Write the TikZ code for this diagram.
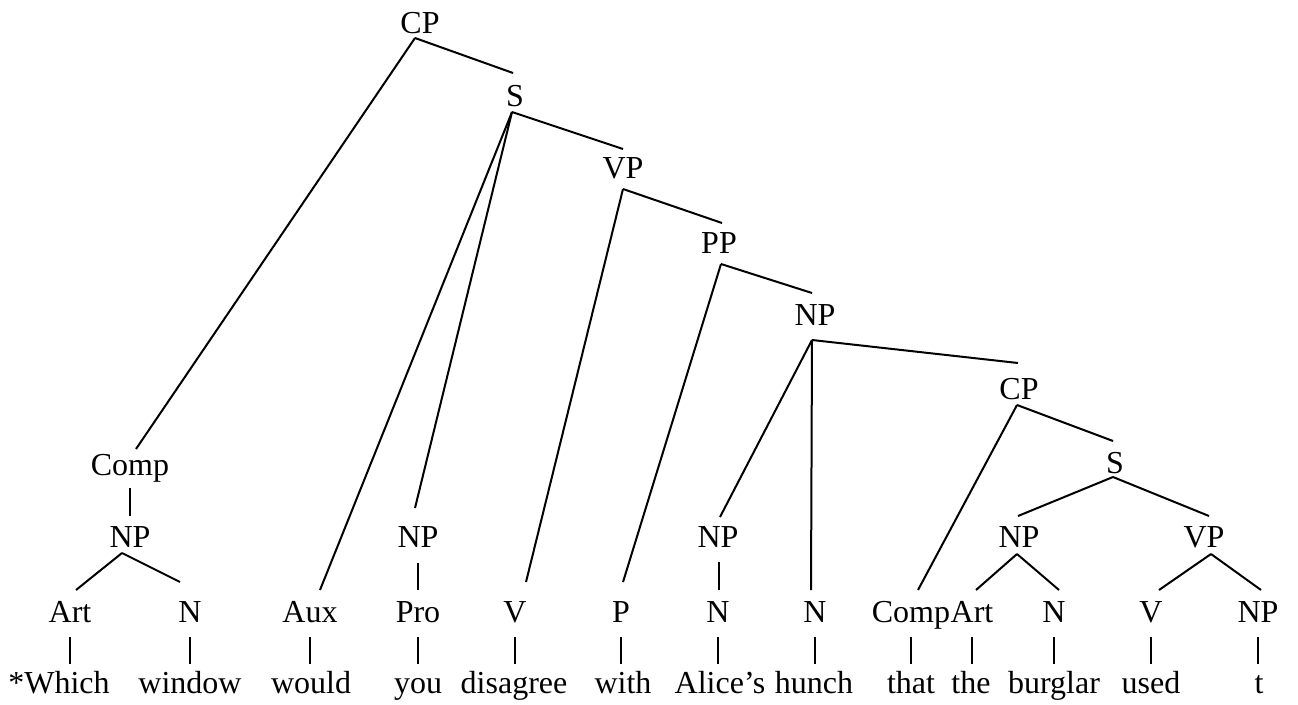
\documentclass[tikz,border=0pt]{standalone}
\usepackage{fontspec}
\setmainfont{Liberation Serif}
\usetikzlibrary{calc}
\begin{document}
\begin{tikzpicture}[x=1pt,y=-1pt,
  lab/.style={anchor=base,inner sep=0pt,font=\fontsize{32}{38}\selectfont},
  branch/.style={line width=2pt},
  ubar/.style={line width=1.2pt}]
\useasboundingbox (0,0) rectangle (1298,704);
% upper spine
\node[lab] (cp1) at (420,33) {CP};
\node[lab] (s1) at (515,106) {S};
\node[lab] (vp1) at (623,178) {VP};
\node[lab] (pp1) at (719,253) {PP};
\node[lab] (np1) at (815,325) {NP};
\node[lab] (cp2) at (1019,399) {CP};
\node[lab] (s2) at (1115,473) {S};
\node[lab] (comp1) at (130,475) {Comp};
% NP row
\node[lab] (npa) at (130,547) {NP};
\node[lab] (npb) at (418,547) {NP};
\node[lab] (npc) at (718,547) {NP};
\node[lab] (npd) at (1019,547) {NP};
\node[lab] (vp2) at (1204,547) {VP};
% category row
\node[lab] (art1) at (70,622) {Art};
\node[lab] (n1) at (190,622) {N};
\node[lab] (aux) at (310,622) {Aux};
\node[lab] (pro) at (418,622) {Pro};
\node[lab] (v1) at (515,622) {V};
\node[lab] (p1) at (621,622) {P};
\node[lab] (n2) at (718,622) {N};
\node[lab] (n3) at (815,622) {N};
\node[lab] (comp2) at (911,622) {Comp};
\node[lab] (art2) at (972,622) {Art};
\node[lab] (n4) at (1054,622) {N};
\node[lab] (v2) at (1151,622) {V};
\node[lab] (np2) at (1258,622) {NP};
% words
\node[lab] (w1) at (59,693) {*Which};
\node[lab] (w2) at (190,693) {window};
\node[lab] (w3) at (311,693) {would};
\node[lab] (w4) at (418,693) {you};
\node[lab] (w5) at (514,693) {disagree};
\node[lab] (w6) at (623,693) {with};
\node[lab] (w7) at (720,693) {Alice’s};
\node[lab] (w8) at (814,693) {hunch};
\node[lab] (w9) at (911,693) {that};
\node[lab] (w10) at (971,693) {the};
\node[lab] (w11) at (1054,693) {burglar};
\node[lab] (w12) at (1151,693) {used};
\node[lab] (w13) at (1259,693) {t};
% branches
\draw[branch] ([shift={(-5,5)}]cp1.base) -- ([shift={(6,-26)}]comp1.base);
\draw[branch] ([shift={(-5,5)}]cp1.base) -- ([shift={(-2,-33)}]s1.base);
\draw[branch] ([shift={(-3,6)}]s1.base) -- ([shift={(10,-32)}]aux.base);
\draw[branch] ([shift={(-3,6)}]s1.base) -- ([shift={(-3,-39)}]npb.base);
\draw[branch] ([shift={(-3,6)}]s1.base) -- ([shift={(0,-29)}]vp1.base);
\draw[branch] ([shift={(0,11)}]vp1.base) -- ([shift={(11,-40)}]v1.base);
\draw[branch] ([shift={(0,11)}]vp1.base) -- ([shift={(3,-30)}]pp1.base);
\draw[branch] ([shift={(2,11)}]pp1.base) -- ([shift={(2,-40)}]p1.base);
\draw[branch] ([shift={(2,11)}]pp1.base) -- ([shift={(-3,-32)}]np1.base);
\draw[branch] ([shift={(-3,15)}]np1.base) -- ([shift={(2,-30)}]npc.base);
\draw[branch] ([shift={(-3,15)}]np1.base) -- ([shift={(-4,-32)}]n3.base);
\draw[branch] ([shift={(-3,15)}]np1.base) -- ([shift={(-1,-36)}]cp2.base);
\draw[branch] ([shift={(-2,6)}]cp2.base) -- ([shift={(7,-32)}]comp2.base);
\draw[branch] ([shift={(-2,6)}]cp2.base) -- ([shift={(-2,-32)}]s2.base);
\draw[branch] ([shift={(-2,4)}]s2.base) -- ([shift={(-1,-31)}]npd.base);
\draw[branch] ([shift={(-2,4)}]s2.base) -- ([shift={(5,-31)}]vp2.base);
\draw[branch] ([shift={(-2,7)}]npd.base) -- ([shift={(4,-32)}]art2.base);
\draw[branch] ([shift={(-2,7)}]npd.base) -- ([shift={(5,-32)}]n4.base);
\draw[branch] ([shift={(7,7)}]vp2.base) -- ([shift={(8,-32)}]v2.base);
\draw[branch] ([shift={(7,7)}]vp2.base) -- ([shift={(3,-32)}]np2.base);
\draw[branch] ([shift={(-8,6)}]npa.base) -- ([shift={(6,-32)}]art1.base);
\draw[branch] ([shift={(-8,6)}]npa.base) -- ([shift={(-10,-40)}]n1.base);
% unary bars
\draw[ubar] ([shift={(0,13)}]comp1.base) -- ([shift={(0,-31)}]npa.base);
\draw[ubar] ([shift={(0,16)}]npb.base) -- ([shift={(0,-32)}]pro.base);
\draw[ubar] ([shift={(1,15)}]npc.base) -- ([shift={(1,-32)}]n2.base);
\foreach \c/\w in {art1/w1,n1/w2,aux/w3,pro/w4,v1/w5,p1/w6,n2/w7,n3/w8,comp2/w9,art2/w10,n4/w11,v2/w12,np2/w13}
  \draw[ubar] ([shift={(0,15)}]\c.base) -- ($(\c.base |- \w.base)+(0,-29)$);
\end{tikzpicture}
\end{document}
